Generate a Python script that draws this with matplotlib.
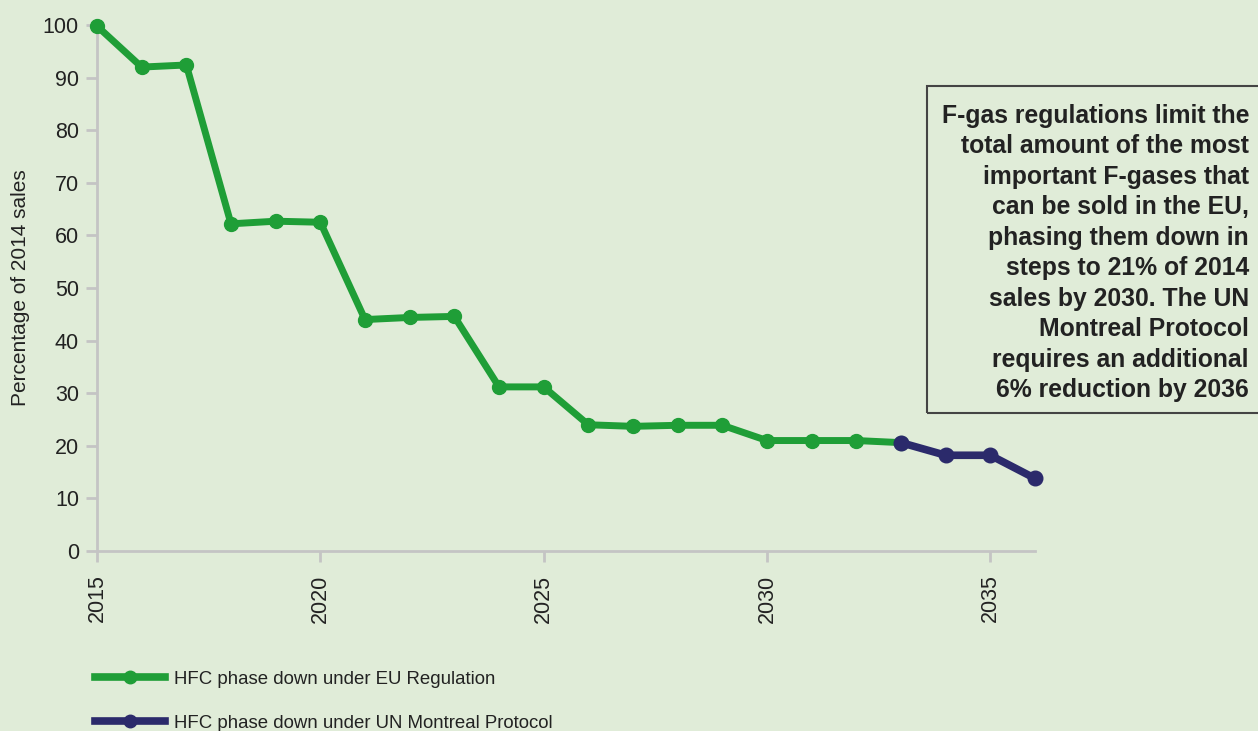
import matplotlib.pyplot as plt
from matplotlib.lines import Line2D
from matplotlib.patches import Rectangle

# EU F-gas regulation phase-down, % of 2014 sales
eu_years = [2015, 2016, 2017, 2018, 2019, 2020, 2021, 2022, 2023, 2024,
            2025, 2026, 2027, 2028, 2029, 2030, 2031, 2032, 2033]
eu_values = [99.8, 92.0, 92.4, 62.2, 62.7, 62.5, 44.0, 44.4, 44.6, 31.2,
             31.2, 24.0, 23.7, 23.9, 23.9, 21.0, 21.0, 21.0, 20.6]

# UN Montreal Protocol continuation
un_years = [2033, 2034, 2035, 2036]
un_values = [20.6, 18.2, 18.2, 13.8]

x_ticks = [2015, 2020, 2025, 2030, 2035]
y_ticks = list(range(0, 101, 10))

note = ("F-gas regulations limit the\ntotal amount of the most\n"
        "important F-gases that\ncan be sold in the EU,\n"
        "phasing them down in\nsteps to 21% of 2014\n"
        "sales by 2030. The UN\nMontreal Protocol\n"
        "requires an additional\n6% reduction by 2036")

bg = '#e0ecd8'
green = '#1f9e37'
navy = '#2b2a6b'
axis_grey = '#c4c4c4'
text_col = '#222222'

plt.rcParams['font.family'] = ['Liberation Sans', 'DejaVu Sans']

W, H = 1258, 731
fig = plt.figure(figsize=(W / 100, H / 100), dpi=100, facecolor=bg)
ax = fig.add_axes([97 / W, (H - 551) / H, (1035 - 97) / W, (551 - 25) / H])
ax.set_facecolor(bg)

ax.plot(eu_years, eu_values, color=green, lw=5, marker='o', ms=10,
        clip_on=False, zorder=3, solid_joinstyle='round')
ax.plot(un_years, un_values, color=navy, lw=5.5, marker='o', ms=10.5,
        clip_on=False, zorder=4, solid_joinstyle='round')

ax.set_xlim(2015, 2036)
ax.set_ylim(0, 100)
ax.set_xticks(x_ticks)
ax.set_yticks(y_ticks)
ax.set_xticklabels([str(t) for t in x_ticks], rotation=90)

for side in ('top', 'right'):
    ax.spines[side].set_visible(False)
for side in ('left', 'bottom'):
    ax.spines[side].set_color(axis_grey)
    ax.spines[side].set_linewidth(2)
ax.tick_params(axis='both', colors=axis_grey, width=2, length=8,
               labelcolor=text_col, labelsize=15.5)
ax.tick_params(axis='x', pad=9)
ax.tick_params(axis='y', pad=5)

ax.set_ylabel('Percentage of 2014 sales', fontsize=15, color=text_col,
              labelpad=9)

# annotation box, open on the right edge
fig.patches.append(Rectangle((927 / W, (H - 413) / H), (W + 20 - 927) / W,
                             (413 - 86) / H, transform=fig.transFigure,
                             facecolor='none', edgecolor='#444444', lw=1.5,
                             clip_on=False))
fig.text(1249 / W, (H - 253) / H, note, ha='right', va='center',
         fontsize=17.8, fontweight='bold', color=text_col, linespacing=1.34)

handles = [
    Line2D([], [], color=green, lw=5.5, marker='o', ms=9),
    Line2D([], [], color=navy, lw=5.5, marker='o', ms=9),
]
labels = ['HFC phase down under EU Regulation',
          'HFC phase down under UN Montreal Protocol']
fig.legend(handles, labels, loc='upper left',
           bbox_to_anchor=(78 / W, (H - 654) / H), frameon=False,
           fontsize=13.4, handlelength=3.75, handletextpad=0.5,
           labelspacing=1.45, markerfirst=True, labelcolor=text_col)

fig.savefig('out.png', dpi=100, facecolor=bg)
